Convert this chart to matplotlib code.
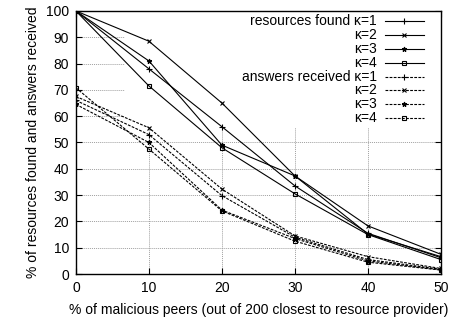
import matplotlib
matplotlib.use('Agg')
import matplotlib.pyplot as plt
from matplotlib.lines import Line2D
from matplotlib.patches import Rectangle

plt.rcParams['font.family'] = ['Liberation Sans', 'DejaVu Sans']
plt.rcParams['font.size'] = 10

# % of malicious peers
x = [0, 10, 20, 30, 40, 50]

# resources found
found_k1 = [100, 78, 56, 33.5, 15.5, 6.2]
found_k2 = [100, 88.5, 65, 37.3, 18.3, 7.5]
found_k3 = [100, 81, 49, 37.3, 15.2, 6.6]
found_k4 = [100, 71.5, 48, 30.5, 15, 5.5]

# answers received
answ_k1 = [66, 53, 29.8, 14, 5.5, 1.8]
answ_k2 = [67.5, 55.6, 32.3, 14.5, 6.6, 2.1]
answ_k3 = [64.5, 50, 24.3, 13.5, 5.0, 1.6]
answ_k4 = [70.8, 47.5, 24, 12.5, 4.5, 1.5]

labels = ['resources found \u03ba=1', '\u03ba=2', '\u03ba=3', '\u03ba=4',
          'answers received \u03ba=1', '\u03ba=2', '\u03ba=3', '\u03ba=4']

fig = plt.figure(figsize=(4.49, 3.22), dpi=100)
ax = fig.add_axes([0.169, 0.149, 0.813, 0.817])

markers = ['+', 'x', '*', 's']
msizes = [4.5, 3.5, 3.5, 3.5]
dash = (0, (2.5, 1.2))
series = [found_k1, found_k2, found_k3, found_k4,
          answ_k1, answ_k2, answ_k3, answ_k4]

for i, ys in enumerate(series):
    k = i % 4
    ls = '-' if i < 4 else dash
    ax.plot(x, ys, color='black', lw=0.8, linestyle=ls, marker=markers[k],
            ms=msizes[k], mfc='none' if k == 3 else 'black', mew=0.8,
            zorder=3)

# key area blanks the grid (gnuplot style)
ax.add_patch(Rectangle((0.134, 0.555), 0.866, 0.445, transform=ax.transAxes,
                       facecolor='white', edgecolor='none', zorder=1.5))

# gnuplot-like key: text right aligned, sample on the right
row_y = [21, 35, 49, 63, 77, 90.5, 104, 118]
for i, lab in enumerate(labels):
    k = i % 4
    yy = (274 - row_y[i]) / 263.0
    ax.text((377 - 76) / 365.0, yy, lab, transform=ax.transAxes,
            ha='right', va='center', fontsize=10, zorder=4)
    x0 = (385 - 76) / 365.0
    x1 = (424 - 76) / 365.0
    ls = '-' if i < 4 else dash
    ln = Line2D([x0, (x0 + x1) / 2, x1], [yy, yy, yy], transform=ax.transAxes,
                color='black', lw=0.8, linestyle=ls, marker=markers[k],
                ms=msizes[k], mfc='none' if k == 3 else 'black', mew=0.8,
                markevery=[1], zorder=4)
    ax.add_line(ln)

ax.set_xlim(0, 50)
ax.set_ylim(0, 100)
ax.set_xticks(range(0, 51, 10))
ax.set_yticks(range(0, 101, 10))
ax.grid(True, color='#a0a0a0', linestyle=(0, (1, 1)), lw=0.7, zorder=1)
ax.set_axisbelow(True)
ax.tick_params(direction='in', length=4, top=True, right=True, width=0.8,
               labelsize=10, pad=5)
for s in ax.spines.values():
    s.set_linewidth(1.0)
    s.set_zorder(5)

ax.set_xlabel('% of malicious peers (out of 200 closest to resource provider)',
              fontsize=10, labelpad=6)
ax.set_ylabel('% of resources found and answers received', fontsize=10,
              labelpad=4)

fig.savefig('out.png', dpi=100)
